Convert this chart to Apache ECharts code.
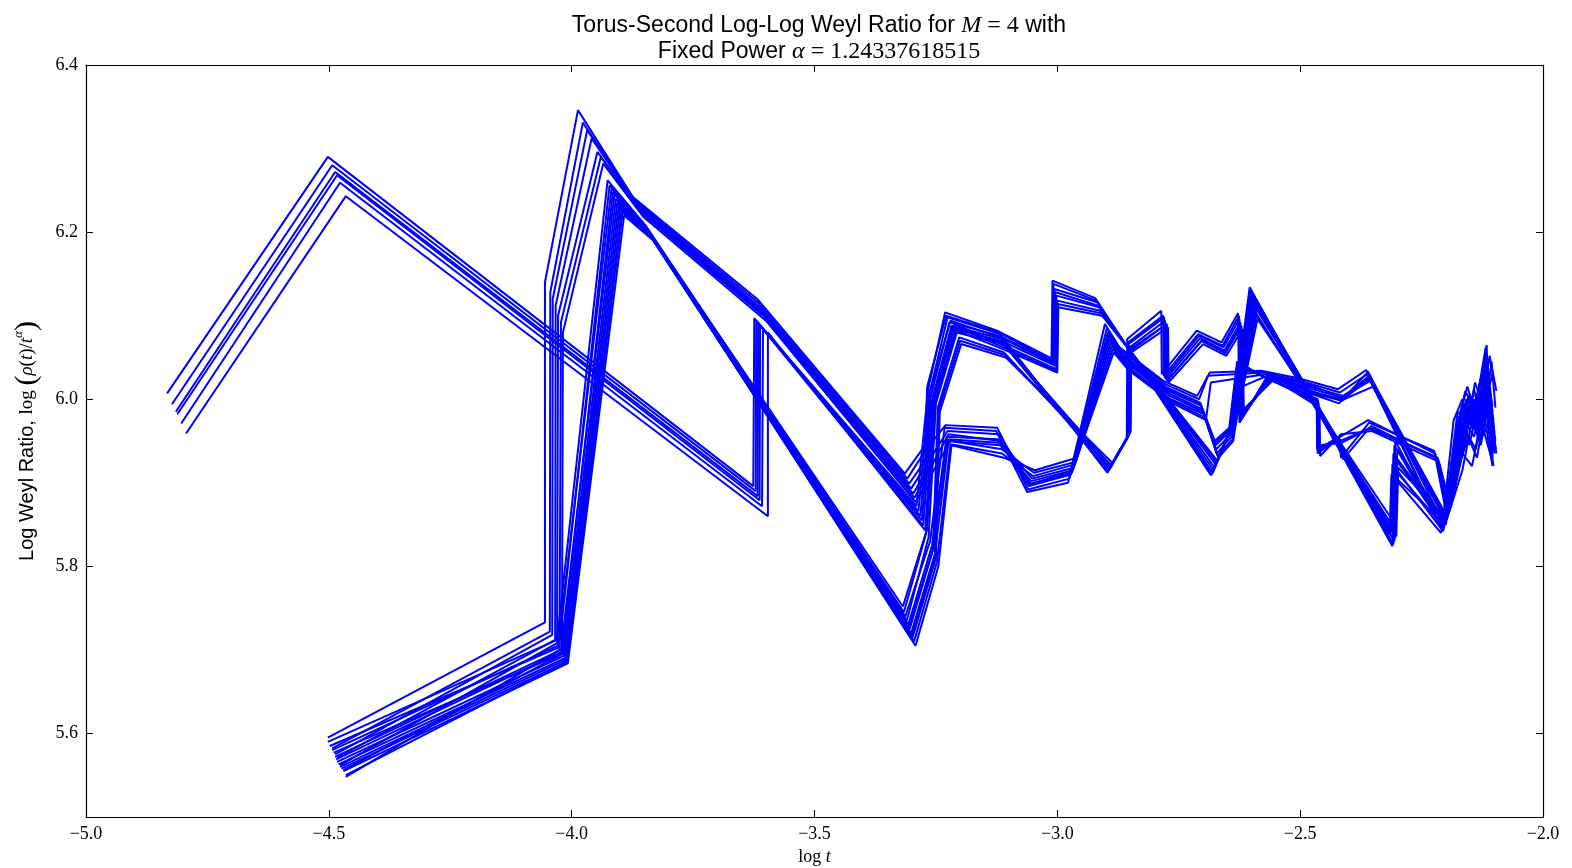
<!DOCTYPE html>
<html>
<head>
<meta charset="utf-8">
<script src="https://cdn.jsdelivr.net/npm/echarts@6/dist/echarts.min.js"></script>
<style>html,body{margin:0;padding:0;background:#fff}#c{width:1572px;height:868px}</style>
</head>
<body>
<div id="c"></div>
<script>
// ---- tick values ----
const xTicks = [-5.0, -4.5, -4.0, -3.5, -3.0, -2.5, -2.0];
const yTicks = [5.6, 5.8, 6.0, 6.2, 6.4];

// ---- series values ([log t, log Weyl ratio]) ----
const A0 = [[-4.833,6.007],[-4.502,6.290],[-3.626,5.896],[-3.624,6.097],[-3.290,5.872],[-3.266,6.012],[-3.231,6.104],[-3.124,6.082],[-3.012,6.049],[-3.010,6.142],[-2.922,6.121],[-2.684,5.909],[-2.642,5.966],[-2.604,6.134],[-2.310,5.824],[-2.306,5.945],[-2.206,5.846],[-2.180,5.960],[-2.160,6.010],[-2.140,5.985],[-2.118,6.062],[-2.108,5.955]];
const A1 = [[-4.823,5.994],[-4.493,6.280],[-3.621,5.890],[-3.620,6.094],[-3.286,5.866],[-3.264,6.005],[-3.226,6.098],[-3.118,6.078],[-2.897,5.912],[-2.857,5.952],[-2.856,6.072],[-2.786,6.106],[-2.785,6.030],[-2.713,6.082],[-2.662,6.068],[-2.628,6.103],[-2.625,5.972],[-2.565,6.030],[-2.470,6.005],[-2.420,5.995],[-2.360,6.033],[-2.204,5.850],[-2.176,5.985],[-2.150,5.970],[-2.122,6.040],[-2.104,5.985]];
const A2 = [[-4.815,5.985],[-4.487,6.272],[-3.617,5.884],[-3.616,6.091],[-3.282,5.860],[-3.262,6.000],[-3.222,6.092],[-3.120,6.076],[-3.008,6.044],[-3.006,6.132],[-2.918,6.116],[-2.680,5.912],[-2.638,5.972],[-2.600,6.128],[-2.306,5.830],[-2.302,5.930],[-2.202,5.852],[-2.172,5.940],[-2.150,5.996],[-2.132,5.955],[-2.112,6.030],[-2.104,5.930]];
const A3 = [[-4.812,5.982],[-4.483,6.268],[-3.613,5.879],[-3.612,6.088],[-3.279,5.855],[-3.260,5.995],[-3.218,6.088],[-3.114,6.072],[-2.893,5.916],[-2.854,5.956],[-2.853,6.066],[-2.780,6.098],[-2.779,6.026],[-2.708,6.076],[-2.658,6.062],[-2.625,6.096],[-2.621,5.978],[-2.560,6.028],[-2.465,5.998],[-2.464,5.935],[-2.418,5.955],[-2.360,5.975],[-2.222,5.935],[-2.196,5.862],[-2.168,5.930],[-2.142,6.012],[-2.126,5.968],[-2.110,6.020],[-2.100,5.960]];
const A4 = [[-4.804,5.971],[-4.477,6.259],[-3.608,5.872],[-3.606,6.084],[-3.276,5.849],[-3.258,5.990],[-3.214,6.084],[-3.116,6.070],[-3.004,6.040],[-3.002,6.124],[-2.914,6.110],[-2.676,5.918],[-2.634,5.978],[-2.596,6.120],[-2.302,5.836],[-2.298,5.918],[-2.198,5.856],[-2.166,5.915],[-2.146,5.975],[-2.128,5.945],[-2.110,6.005],[-2.100,5.940]];
const A5 = [[-4.794,5.959],[-4.465,6.243],[-3.596,5.860],[-3.596,6.080],[-3.272,5.843],[-3.256,5.985],[-3.210,6.080],[-3.110,6.066],[-2.889,5.920],[-2.851,5.960],[-2.850,6.060],[-2.775,6.090],[-2.774,6.022],[-2.703,6.070],[-2.655,6.056],[-2.622,6.088],[-2.618,5.985],[-2.556,6.026],[-2.462,6.010],[-2.414,6.002],[-2.356,6.022],[-2.202,5.856],[-2.170,5.965],[-2.144,5.990],[-2.124,5.960],[-2.106,6.045],[-2.098,5.990]];

const B1_0 = [[-4.502,5.595],[-4.055,5.733],[-4.055,6.140],[-3.987,6.346],[-3.874,6.242],[-3.618,6.120],[-3.314,5.911],[-3.272,5.945],[-3.268,6.015],[-3.229,6.100],[-3.122,6.080],[-3.010,6.046],[-3.008,6.138],[-2.920,6.118],[-2.682,5.910],[-2.640,5.968],[-2.602,6.130],[-2.308,5.826],[-2.304,5.950],[-2.208,5.844],[-2.184,5.975],[-2.166,6.000],[-2.152,5.945],[-2.136,5.985],[-2.116,6.065],[-2.112,5.990]];
const B1_1 = [[-4.493,5.582],[-4.045,5.722],[-4.044,6.128],[-3.977,6.331],[-3.870,6.238],[-3.615,6.115],[-3.309,5.905],[-3.270,5.940],[-3.230,5.969],[-3.124,5.966],[-3.060,5.892],[-2.975,5.905],[-2.898,6.085],[-2.868,6.058],[-2.778,6.018],[-2.708,6.000],[-2.690,6.028],[-2.575,6.032],[-2.500,6.022],[-2.418,6.008],[-2.362,6.030],[-2.206,5.842],[-2.180,5.900],[-2.158,5.960],[-2.138,5.940],[-2.120,6.010],[-2.102,5.950]];
const B1_2 = [[-4.487,5.575],[-4.040,5.718],[-4.039,6.120],[-3.968,6.322],[-3.866,6.234],[-3.612,6.110],[-3.305,5.899],[-3.268,5.930],[-3.264,6.005],[-3.220,6.094],[-3.118,6.074],[-3.006,6.042],[-3.004,6.128],[-2.916,6.112],[-2.678,5.915],[-2.636,5.975],[-2.598,6.124],[-2.304,5.834],[-2.300,5.925],[-2.200,5.850],[-2.178,5.935],[-2.156,5.985],[-2.134,5.960],[-2.114,6.045],[-2.106,5.975]];
const B1_3 = [[-4.483,5.571],[-4.034,5.712],[-4.033,6.112],[-3.959,6.312],[-3.862,6.230],[-3.609,6.106],[-3.301,5.893],[-3.266,5.925],[-3.226,5.962],[-3.120,5.958],[-3.056,5.898],[-2.970,5.912],[-2.894,6.076],[-2.864,6.050],[-2.772,6.010],[-2.704,5.992],[-2.674,5.945],[-2.644,5.962],[-2.628,6.040],[-2.570,6.026],[-2.462,5.995],[-2.461,5.945],[-2.414,5.948],[-2.356,5.965],[-2.218,5.930],[-2.194,5.866],[-2.172,5.925],[-2.148,5.985],[-2.130,5.950],[-2.108,5.975],[-2.096,5.935]];
const B1_4 = [[-4.477,5.562],[-4.030,5.708],[-4.028,6.100],[-3.947,6.296],[-3.858,6.226],[-3.606,6.102],[-3.297,5.887],[-3.262,5.920],[-3.258,5.998],[-3.216,6.086],[-3.114,6.068],[-2.895,5.914],[-2.855,5.954],[-2.854,6.068],[-2.782,6.100],[-2.781,6.028],[-2.710,6.078],[-2.660,6.064],[-2.626,6.100],[-2.622,5.975],[-2.562,6.029],[-2.466,6.000],[-2.465,5.940],[-2.420,5.955],[-2.416,5.930],[-2.358,5.972],[-2.224,5.938],[-2.198,5.860],[-2.175,5.945],[-2.155,5.970],[-2.140,6.020],[-2.122,5.990],[-2.104,6.030]];
const B1_5 = [[-4.465,5.548],[-4.025,5.700],[-4.022,6.092],[-3.940,6.290],[-3.855,6.222],[-3.602,6.098],[-3.294,5.882],[-3.224,5.958],[-3.118,5.950],[-3.052,5.905],[-2.966,5.918],[-2.890,6.068],[-2.860,6.044],[-2.768,6.004],[-2.700,5.985],[-2.672,5.935],[-2.642,5.955],[-2.590,6.100],[-2.306,5.845],[-2.302,5.905],[-2.204,5.852],[-2.182,5.920],[-2.162,5.975],[-2.142,5.955],[-2.126,6.000],[-2.104,5.920]];
const B1_6 = [[-4.470,5.556],[-4.020,5.695],[-4.018,6.080],[-3.935,6.282],[-3.852,6.218],[-3.600,6.094],[-3.292,5.877],[-3.220,5.950],[-3.114,5.940],[-3.048,5.912],[-2.962,5.925],[-2.886,6.060],[-2.856,6.038],[-2.764,5.998],[-2.696,5.978],[-2.668,5.930],[-2.638,5.950],[-2.620,6.015],[-2.560,6.030],[-2.470,6.015],[-2.410,6.000],[-2.350,6.015],[-2.200,5.858],[-2.168,5.950],[-2.150,5.995],[-2.132,5.970],[-2.116,6.035],[-2.102,5.960]];

const B2_0 = [[-4.502,5.590],[-4.030,5.712],[-3.926,6.262],[-3.848,6.208],[-3.316,5.745],[-3.270,5.840],[-3.254,6.000],[-3.212,6.090],[-3.116,6.066],[-3.002,6.036],[-3.000,6.118],[-2.912,6.106],[-2.674,5.922],[-2.632,5.980],[-2.594,6.116],[-2.316,5.838],[-2.312,5.910],[-2.210,5.840],[-2.186,5.905],[-2.160,5.985],[-2.138,5.968],[-2.120,6.020],[-2.100,5.945]];
const B2_1 = [[-4.493,5.580],[-4.028,5.705],[-3.918,6.252],[-3.846,6.205],[-3.313,5.740],[-3.262,5.830],[-3.232,5.966],[-3.126,5.962],[-3.062,5.889],[-2.978,5.900],[-2.902,6.090],[-2.872,6.062],[-2.782,6.022],[-2.712,6.004],[-2.686,6.032],[-2.580,6.034],[-2.504,6.025],[-2.422,6.012],[-2.364,6.035],[-2.208,5.846],[-2.186,5.930],[-2.164,5.995],[-2.146,5.965],[-2.128,6.025],[-2.106,5.965]];
const B2_2 = [[-4.487,5.572],[-4.022,5.700],[-3.912,6.245],[-3.843,6.202],[-3.310,5.735],[-3.265,5.835],[-3.250,5.995],[-3.206,6.082],[-3.112,6.060],[-3.000,6.032],[-2.998,6.110],[-2.908,6.100],[-2.670,5.926],[-2.628,5.985],[-2.590,6.108],[-2.312,5.844],[-2.308,5.935],[-2.206,5.848],[-2.176,5.915],[-2.154,5.955],[-2.136,5.930],[-2.118,5.990],[-2.102,5.920]];
const B2_3 = [[-4.483,5.566],[-4.016,5.693],[-3.906,6.236],[-3.840,6.198],[-3.307,5.730],[-3.258,5.825],[-3.228,5.955],[-3.122,5.952],[-3.058,5.896],[-2.972,5.910],[-2.896,6.080],[-2.866,6.054],[-2.775,6.014],[-2.706,5.996],[-2.676,5.950],[-2.646,5.966],[-2.630,6.045],[-2.568,6.025],[-2.464,6.000],[-2.463,5.938],[-2.418,5.952],[-2.412,5.928],[-2.354,5.968],[-2.216,5.928],[-2.192,5.868],[-2.170,5.940],[-2.152,6.005],[-2.134,5.975],[-2.112,6.010],[-2.098,5.950]];
const B2_4 = [[-4.477,5.560],[-4.012,5.688],[-3.900,6.230],[-3.837,6.195],[-3.304,5.725],[-3.256,5.820],[-3.246,5.990],[-3.202,6.074],[-3.110,6.056],[-2.891,5.918],[-2.852,5.958],[-2.851,6.062],[-2.778,6.094],[-2.777,6.024],[-2.706,6.073],[-2.656,6.058],[-2.623,6.092],[-2.620,5.980],[-2.558,6.027],[-2.468,6.008],[-2.416,6.000],[-2.358,6.028],[-2.200,5.858],[-2.174,5.975],[-2.156,6.015],[-2.136,5.980],[-2.120,6.050],[-2.108,6.000]];
const B2_5 = [[-4.465,5.550],[-4.010,5.686],[-3.895,6.224],[-3.834,6.192],[-3.301,5.720],[-3.252,5.815],[-3.224,5.950],[-3.118,5.945],[-3.054,5.902],[-2.968,5.915],[-2.892,6.072],[-2.862,6.047],[-2.770,6.007],[-2.702,5.988],[-2.673,5.940],[-2.643,5.958],[-2.592,6.104],[-2.308,5.840],[-2.304,5.915],[-2.206,5.848],[-2.188,5.890],[-2.166,5.935],[-2.146,5.920],[-2.128,5.975],[-2.104,5.925]];
const B2_6 = [[-4.470,5.555],[-4.008,5.684],[-3.892,6.220],[-3.832,6.190],[-3.298,5.715],[-3.250,5.810],[-3.242,5.985],[-3.198,6.066],[-3.106,6.050],[-2.887,5.924],[-2.849,5.962],[-2.848,6.056],[-2.772,6.086],[-2.771,6.020],[-2.700,6.066],[-2.652,6.052],[-2.619,6.084],[-2.616,5.988],[-2.554,6.024],[-2.460,5.990],[-2.459,5.932],[-2.416,5.958],[-2.352,5.962],[-2.214,5.925],[-2.190,5.870],[-2.160,5.950],[-2.142,6.000],[-2.126,5.985],[-2.110,6.052],[-2.096,6.010]];
const B2_7 = [[-4.480,5.563],[-4.014,5.690],[-3.903,6.233],[-3.838,6.196],[-3.295,5.710],[-3.248,5.805],[-3.220,5.946],[-3.114,5.935],[-3.050,5.908],[-2.964,5.922],[-2.888,6.064],[-2.858,6.040],[-2.766,6.000],[-2.698,5.982],[-2.670,5.932],[-2.640,5.952],[-2.588,6.096],[-2.304,5.850],[-2.300,5.940],[-2.202,5.854],[-2.180,5.950],[-2.158,6.000],[-2.140,5.990],[-2.124,6.030],[-2.102,5.975]];
const B2_8 = [[-4.490,5.577],[-4.018,5.696],[-3.909,6.240],[-3.841,6.200],[-3.292,5.705],[-3.245,5.800],[-3.218,5.945],[-3.110,5.930],[-3.046,5.915],[-2.960,5.930],[-2.884,6.056],[-2.854,6.035],[-2.762,5.995],[-2.694,5.975],[-2.684,6.020],[-2.572,6.030],[-2.496,6.018],[-2.412,6.004],[-2.354,6.025],[-2.198,5.860],[-2.170,5.960],[-2.148,5.985],[-2.130,5.965],[-2.116,6.000],[-2.100,5.955]];
const B2_9 = [[-4.498,5.585],[-4.026,5.703],[-3.922,6.256],[-3.847,6.206],[-3.318,5.752],[-3.268,5.845],[-3.252,5.998],[-3.209,6.086],[-3.114,6.063],[-3.001,6.034],[-2.999,6.114],[-2.910,6.103],[-2.672,5.924],[-2.630,5.982],[-2.592,6.112],[-2.314,5.841],[-2.310,5.922],[-2.208,5.844],[-2.182,5.925],[-2.162,5.990],[-2.142,5.975],[-2.122,6.012],[-2.100,5.935]];
const B2_10 = [[-4.485,5.569],[-4.020,5.698],[-3.915,6.248],[-3.844,6.203],[-3.305,5.728],[-3.255,5.822],[-3.226,5.952],[-3.120,5.948],[-3.055,5.899],[-2.970,5.913],[-2.893,6.078],[-2.863,6.052],[-2.773,6.012],[-2.705,5.994],[-2.675,5.948],[-2.645,5.964],[-2.629,6.042],[-2.566,6.024],[-2.463,5.998],[-2.462,5.942],[-2.417,5.950],[-2.355,5.966],[-2.217,5.930],[-2.193,5.866],[-2.171,5.935],[-2.150,5.995],[-2.132,5.962],[-2.110,6.000],[-2.097,5.940]];
const B2_11 = [[-4.474,5.558],[-4.010,5.686],[-3.897,6.227],[-3.835,6.193],[-3.300,5.716],[-3.252,5.812],[-3.244,5.988],[-3.200,6.070],[-3.108,6.053],[-2.889,5.921],[-2.850,5.960],[-2.849,6.058],[-2.775,6.090],[-2.774,6.022],[-2.703,6.070],[-2.654,6.055],[-2.621,6.088],[-2.618,5.984],[-2.556,6.026],[-2.466,6.006],[-2.414,5.998],[-2.357,6.026],[-2.201,5.856],[-2.172,5.968],[-2.152,6.005],[-2.134,5.975],[-2.118,6.040],[-2.104,5.992]];

const lines = [A0,A1,A2,A3,A4,A5,B1_0,B1_1,B1_2,B1_3,B1_4,B1_5,B1_6,B2_0,B2_1,B2_2,B2_3,B2_4,B2_5,B2_6,B2_7,B2_8,B2_9,B2_10,B2_11];

// ---- chart ----
const SANS = '"Liberation Sans", Arial, sans-serif';
const SERIF = '"Liberation Serif", "DejaVu Serif", serif';
const fmt = v => (v < 0 ? '\u2212' : '') + Math.abs(v).toFixed(1);

const chart = echarts.init(document.getElementById('c'), null, {renderer: 'canvas'});
const baseAxisLine = {show: true, lineStyle: {color: '#000', width: 1.2}};
const tickStyle = {show: true, inside: true, length: 7, lineStyle: {color: '#000', width: 1}};

chart.setOption({
  animation: false,
  backgroundColor: '#fff',
  title: {
    text: '{s|Torus-Second Log-Log Weyl Ratio for }{i|M}{r| = 4}{s| with}\n{s|Fixed Power }{i|α}{r| = 1.24337618515}',
    left: 814, top: 8, textAlign: 'center',
    textStyle: {
      fontSize: 23, fontWeight: 'normal', color: '#000', lineHeight: 26,
      rich: {
        s: {fontFamily: SANS, fontSize: 23, fontWeight: 'normal', color: '#000', lineHeight: 26},
        i: {fontFamily: SERIF, fontStyle: 'italic', fontWeight: 'normal', fontSize: 24, color: '#000', lineHeight: 26},
        r: {fontFamily: SERIF, fontSize: 24, fontWeight: 'normal', color: '#000', lineHeight: 26}
      }
    }
  },
  grid: {left: 86, right: 29, top: 65, bottom: 51, containLabel: false, outerBoundsMode: 'none'},
  xAxis: [{
    type: 'value', min: -5, max: -2, interval: 0.5,
    axisLine: baseAxisLine, axisTick: tickStyle, splitLine: {show: false},
    axisLabel: {customValues: xTicks, formatter: fmt, fontFamily: SERIF, fontSize: 18, color: '#000', margin: 8},
    name: '{l|log }{i|t}', nameLocation: 'middle', nameGap: 28,
    nameTextStyle: {rich: {l: {fontFamily: SERIF, fontSize: 18, color: '#000'}, i: {fontFamily: SERIF, fontStyle: 'italic', fontSize: 18, color: '#000'}}}
  }, {
    type: 'value', position: 'top', min: -5, max: -2, interval: 0.5,
    axisLine: baseAxisLine, axisTick: tickStyle, axisLabel: {show: false}, splitLine: {show: false}
  }],
  yAxis: [{
    type: 'value', min: 5.5, max: 6.4,
    axisLine: baseAxisLine,
    axisTick: Object.assign({customValues: yTicks}, tickStyle),
    splitLine: {show: false},
    axisLabel: {customValues: yTicks, formatter: fmt, fontFamily: SERIF, fontSize: 18, color: '#000', margin: 8},
    name: '{s|Log Weyl Ratio, }{l|log }{p|(}{i|ρ}{l|(}{i|t}{l|)/}{i|t}{sup|α}{p|)}',
    nameLocation: 'middle', nameRotate: 90, nameGap: 44,
    nameTextStyle: {rich: {
      s: {fontFamily: SANS, fontSize: 20, color: '#000'},
      l: {fontFamily: SERIF, fontSize: 19, color: '#000'},
      i: {fontFamily: SERIF, fontStyle: 'italic', fontSize: 19, color: '#000'},
      sup: {fontFamily: SERIF, fontStyle: 'italic', fontSize: 13, color: '#000', verticalAlign: 'top', padding: [0, 0, 10, 0]},
      p: {fontFamily: SERIF, fontSize: 30, color: '#000'}
    }}
  }, {
    type: 'value', position: 'right', min: 5.5, max: 6.4,
    axisLine: baseAxisLine,
    axisTick: Object.assign({customValues: yTicks}, tickStyle),
    axisLabel: {show: false}, splitLine: {show: false}
  }],
  series: lines.map(d => ({
    type: 'line', data: d, xAxisIndex: 0, yAxisIndex: 0,
    showSymbol: false, symbol: 'none', silent: true,
    lineStyle: {color: '#0000ff', width: 2}
  }))
});
</script>
</body>
</html>
